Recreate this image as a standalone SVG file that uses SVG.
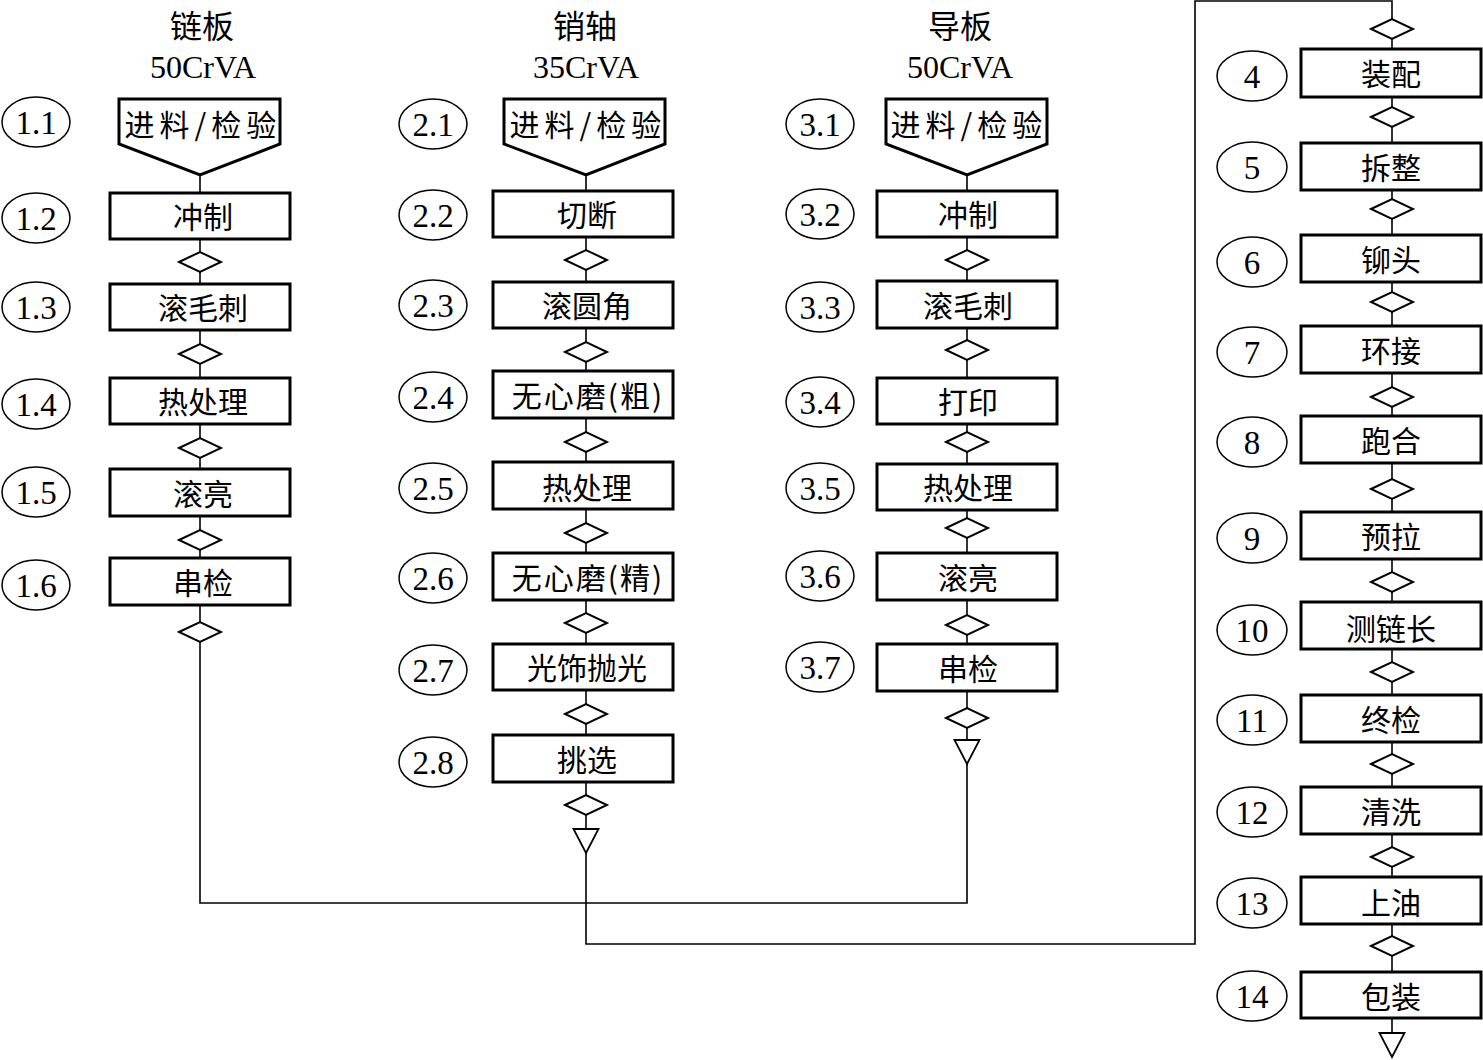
<svg xmlns="http://www.w3.org/2000/svg" width="1483" height="1060" viewBox="0 0 1483 1060">
<style>
.bg{fill:#fff}
.ln{fill:none;stroke:#000;stroke-width:1.6}
.box{fill:#fff;stroke:#000;stroke-width:3}
.pent{fill:#fff;stroke:#000;stroke-width:3}
.dia{fill:#fff;stroke:#000;stroke-width:2}
.tri{fill:#fff;stroke:#000;stroke-width:1.8}
.ell{fill:#fff;stroke:#000;stroke-width:1.5}
.t{font-family:"Noto Sans CJK SC","Noto Sans CJK JP",serif;font-size:30px;text-anchor:middle;dominant-baseline:central;fill:#000}
.sp{letter-spacing:5px}
.sp2{letter-spacing:2px}
.n{font-family:"Liberation Serif","Times New Roman",serif;font-size:33px;text-anchor:middle;dominant-baseline:central;fill:#000}
.h{font-family:"Liberation Serif","Noto Sans CJK SC",serif;font-size:32px;text-anchor:middle;dominant-baseline:central;fill:#000}
</style>
<defs>
<polygon id="d" class="dia" points="-21,0 0,-10 21,0 0,10"/>
<polygon id="v" class="tri" points="-12.5,0 12.5,0 0,24"/>
</defs>
<rect class="bg" x="0" y="0" width="1483" height="1060"/>

<g id="connectors">
<polyline class="ln" points="200,175 200,903 967,903 967,760"/>
<polyline class="ln" points="967,175 967,741"/>
<polyline class="ln" points="586,175 586,944 1195,944 1195,1 1392,1 1392,1033"/>
</g>

<g id="headers">
<text class="h" x="202" y="27">链板</text>
<text class="h" x="203" y="67">50CrVA</text>
<text class="h" x="585" y="27">销轴</text>
<text class="h" x="586" y="67">35CrVA</text>
<text class="h" x="960" y="27">导板</text>
<text class="h" x="960" y="67">50CrVA</text>
</g>

<!-- Column 1 -->
<g id="n1_1"><ellipse class="ell" cx="36" cy="122" rx="34" ry="25"/><text class="n" x="36" y="123">1.1</text>
<polygon class="pent" points="119,99 280,99 280,144 200,175 119,144"/><text class="t sp" x="203" y="123">进料/检验</text></g>
<g id="n1_2"><ellipse class="ell" cx="36" cy="218" rx="34" ry="25"/><text class="n" x="36" y="219">1.2</text>
<rect class="box" x="110" y="193" width="180" height="46"/><text class="t" x="203" y="215">冲制</text></g>
<use href="#d" x="200" y="262"/>
<g id="n1_3"><ellipse class="ell" cx="36" cy="307" rx="34" ry="25"/><text class="n" x="36" y="308">1.3</text>
<rect class="box" x="110" y="284" width="180" height="46"/><text class="t" x="203" y="306">滚毛刺</text></g>
<use href="#d" x="200" y="354"/>
<g id="n1_4"><ellipse class="ell" cx="36" cy="404" rx="34" ry="25"/><text class="n" x="36" y="405">1.4</text>
<rect class="box" x="110" y="378" width="180" height="46"/><text class="t" x="203" y="400">热处理</text></g>
<use href="#d" x="200" y="448"/>
<g id="n1_5"><ellipse class="ell" cx="36" cy="492" rx="34" ry="25"/><text class="n" x="36" y="493">1.5</text>
<rect class="box" x="110" y="469" width="180" height="47"/><text class="t" x="203" y="492">滚亮</text></g>
<use href="#d" x="200" y="540"/>
<g id="n1_6"><ellipse class="ell" cx="36" cy="585" rx="34" ry="25"/><text class="n" x="36" y="586">1.6</text>
<rect class="box" x="110" y="558" width="180" height="47"/><text class="t" x="203" y="581">串检</text></g>
<use href="#d" x="200" y="632"/>

<!-- Column 2 -->
<g id="n2_1"><ellipse class="ell" cx="433" cy="124" rx="34" ry="25"/><text class="n" x="433" y="125">2.1</text>
<polygon class="pent" points="504,99 665,99 665,144 586,175 504,144"/><text class="t sp" x="588" y="123">进料/检验</text></g>
<g id="n2_2"><ellipse class="ell" cx="433" cy="215" rx="34" ry="25"/><text class="n" x="433" y="216">2.2</text>
<rect class="box" x="493" y="191" width="180" height="46"/><text class="t" x="587" y="213">切断</text></g>
<use href="#d" x="586" y="260"/>
<g id="n2_3"><ellipse class="ell" cx="433" cy="305" rx="34" ry="25"/><text class="n" x="433" y="306">2.3</text>
<rect class="box" x="493" y="282" width="180" height="46"/><text class="t" x="587" y="304">滚圆角</text></g>
<use href="#d" x="586" y="352"/>
<g id="n2_4"><ellipse class="ell" cx="433" cy="397" rx="34" ry="25"/><text class="n" x="433" y="398">2.4</text>
<rect class="box" x="493" y="371" width="180" height="47"/><text class="t sp2" x="588" y="394">无心磨(粗)</text></g>
<use href="#d" x="586" y="442"/>
<g id="n2_5"><ellipse class="ell" cx="433" cy="488" rx="34" ry="25"/><text class="n" x="433" y="489">2.5</text>
<rect class="box" x="493" y="462" width="180" height="47"/><text class="t" x="587" y="486">热处理</text></g>
<use href="#d" x="586" y="533"/>
<g id="n2_6"><ellipse class="ell" cx="433" cy="578" rx="34" ry="25"/><text class="n" x="433" y="579">2.6</text>
<rect class="box" x="493" y="553" width="180" height="47"/><text class="t sp2" x="588" y="576">无心磨(精)</text></g>
<use href="#d" x="586" y="623"/>
<g id="n2_7"><ellipse class="ell" cx="433" cy="670" rx="34" ry="25"/><text class="n" x="433" y="671">2.7</text>
<rect class="box" x="493" y="644" width="180" height="46"/><text class="t" x="587" y="666">光饰抛光</text></g>
<use href="#d" x="586" y="714"/>
<g id="n2_8"><ellipse class="ell" cx="433" cy="762" rx="34" ry="25"/><text class="n" x="433" y="763">2.8</text>
<rect class="box" x="493" y="735" width="180" height="47"/><text class="t" x="587" y="758">挑选</text></g>
<use href="#d" x="586" y="805"/>
<use href="#v" x="586" y="829"/>

<!-- Column 3 -->
<g id="n3_1"><ellipse class="ell" cx="820" cy="124" rx="34" ry="25"/><text class="n" x="820" y="125">3.1</text>
<polygon class="pent" points="886,99 1047,99 1047,144 967,175 886,144"/><text class="t sp" x="969" y="123">进料/检验</text></g>
<g id="n3_2"><ellipse class="ell" cx="820" cy="214" rx="34" ry="25"/><text class="n" x="820" y="215">3.2</text>
<rect class="box" x="877" y="191" width="180" height="46"/><text class="t" x="968" y="213">冲制</text></g>
<use href="#d" x="967" y="260"/>
<g id="n3_3"><ellipse class="ell" cx="820" cy="307" rx="34" ry="25"/><text class="n" x="820" y="308">3.3</text>
<rect class="box" x="877" y="281" width="180" height="47"/><text class="t" x="968" y="304">滚毛刺</text></g>
<use href="#d" x="967" y="350"/>
<g id="n3_4"><ellipse class="ell" cx="820" cy="402" rx="34" ry="25"/><text class="n" x="820" y="403">3.4</text>
<rect class="box" x="877" y="378" width="180" height="46"/><text class="t" x="968" y="400">打印</text></g>
<use href="#d" x="967" y="442"/>
<g id="n3_5"><ellipse class="ell" cx="820" cy="488" rx="34" ry="25"/><text class="n" x="820" y="489">3.5</text>
<rect class="box" x="877" y="464" width="180" height="46"/><text class="t" x="968" y="486">热处理</text></g>
<use href="#d" x="967" y="528"/>
<g id="n3_6"><ellipse class="ell" cx="820" cy="576" rx="34" ry="25"/><text class="n" x="820" y="577">3.6</text>
<rect class="box" x="877" y="553" width="180" height="47"/><text class="t" x="968" y="576">滚亮</text></g>
<use href="#d" x="967" y="625"/>
<g id="n3_7"><ellipse class="ell" cx="820" cy="667" rx="34" ry="25"/><text class="n" x="820" y="668">3.7</text>
<rect class="box" x="877" y="644" width="180" height="47"/><text class="t" x="968" y="667">串检</text></g>
<use href="#d" x="967" y="718"/>
<use href="#v" x="967" y="740"/>

<!-- Column 4 -->
<use href="#d" x="1392" y="29"/>
<g id="n4"><ellipse class="ell" cx="1252" cy="76" rx="35" ry="25"/><text class="n" x="1252" y="77">4</text>
<rect class="box" x="1301" y="49" width="180" height="48"/><text class="t" x="1391" y="72">装配</text></g>
<use href="#d" x="1392" y="117"/>
<g id="n5"><ellipse class="ell" cx="1252" cy="167" rx="35" ry="25"/><text class="n" x="1252" y="168">5</text>
<rect class="box" x="1301" y="143" width="180" height="47"/><text class="t" x="1391" y="166">拆整</text></g>
<use href="#d" x="1392" y="209"/>
<g id="n6"><ellipse class="ell" cx="1252" cy="262" rx="35" ry="25"/><text class="n" x="1252" y="263">6</text>
<rect class="box" x="1301" y="235" width="180" height="47"/><text class="t" x="1391" y="258">铆头</text></g>
<use href="#d" x="1392" y="302"/>
<g id="n7"><ellipse class="ell" cx="1252" cy="352" rx="35" ry="25"/><text class="n" x="1252" y="353">7</text>
<rect class="box" x="1301" y="326" width="180" height="47"/><text class="t" x="1391" y="349">环接</text></g>
<use href="#d" x="1392" y="397"/>
<g id="n8"><ellipse class="ell" cx="1252" cy="442" rx="35" ry="25"/><text class="n" x="1252" y="443">8</text>
<rect class="box" x="1301" y="416" width="180" height="47"/><text class="t" x="1391" y="439">跑合</text></g>
<use href="#d" x="1392" y="489"/>
<g id="n9"><ellipse class="ell" cx="1252" cy="538" rx="35" ry="25"/><text class="n" x="1252" y="539">9</text>
<rect class="box" x="1301" y="512" width="180" height="47"/><text class="t" x="1391" y="535">预拉</text></g>
<use href="#d" x="1392" y="582"/>
<g id="n10"><ellipse class="ell" cx="1252" cy="630" rx="35" ry="25"/><text class="n" x="1252" y="631">10</text>
<rect class="box" x="1301" y="602" width="180" height="47"/><text class="t" x="1391" y="627">测链长</text></g>
<use href="#d" x="1392" y="672"/>
<g id="n11"><ellipse class="ell" cx="1252" cy="720" rx="35" ry="25"/><text class="n" x="1252" y="721">11</text>
<rect class="box" x="1301" y="695" width="180" height="47"/><text class="t" x="1391" y="718">终检</text></g>
<use href="#d" x="1392" y="764"/>
<g id="n12"><ellipse class="ell" cx="1252" cy="812" rx="35" ry="25"/><text class="n" x="1252" y="813">12</text>
<rect class="box" x="1301" y="787" width="180" height="47"/><text class="t" x="1391" y="810">清洗</text></g>
<use href="#d" x="1392" y="857"/>
<g id="n13"><ellipse class="ell" cx="1252" cy="903" rx="35" ry="25"/><text class="n" x="1252" y="904">13</text>
<rect class="box" x="1301" y="877" width="180" height="47"/><text class="t" x="1391" y="901">上油</text></g>
<use href="#d" x="1392" y="946"/>
<g id="n14"><ellipse class="ell" cx="1252" cy="996" rx="35" ry="25"/><text class="n" x="1252" y="997">14</text>
<rect class="box" x="1301" y="972" width="180" height="46"/><text class="t" x="1391" y="995">包装</text></g>
<use href="#v" x="1392" y="1033"/>
</svg>
